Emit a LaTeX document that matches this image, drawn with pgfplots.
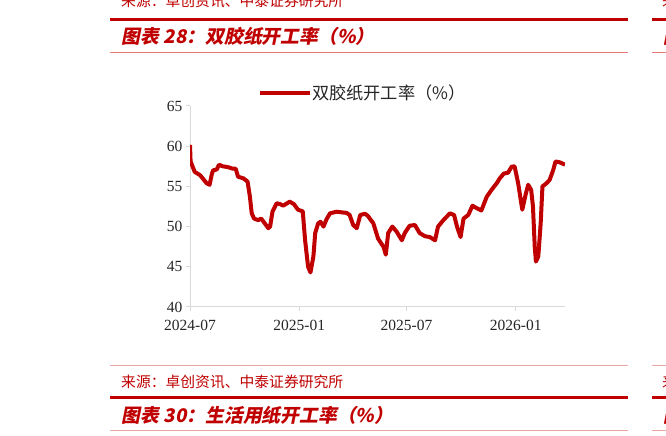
\documentclass[border=0pt]{standalone}
\usepackage{fontspec}
\usepackage{pgfplots}
\pgfplotsset{compat=1.18}
\setmainfont{Liberation Serif}
\newfontfamily\cjk{Noto Sans CJK SC}
\newfontfamily\cjktitle{Noto Sans CJK SC}[FakeSlant=0.2]

\definecolor{zred}{HTML}{C00000}
\definecolor{zpink}{HTML}{E57A7A}
\definecolor{zpale}{HTML}{EBA5A5}
\definecolor{axgrey}{HTML}{D9D9D9}

\newcommand{\srcfont}{\cjk\fontsize{14.8bp}{16bp}\selectfont}
\newcommand{\ttlfont}{\cjktitle\bfseries\fontsize{18.8bp}{20bp}\selectfont}

\begin{document}
\begin{tikzpicture}
\useasboundingbox (0,0) rectangle (666bp,436bp);
\fill[white] (0,0) rectangle (666bp,436bp);

% page furniture, upper block
\node[anchor=base west, inner sep=0, text=zred, font=\srcfont] at (121bp,429.5bp) {来源：卓创资讯、中泰证券研究所};
\draw[zred, line width=3bp] (110bp,416.3bp) -- (628bp,416.3bp);
\node[anchor=base west, inner sep=0, text=zred, font=\ttlfont] at (121bp,392bp) {图表\hspace{5bp}28：双胶纸开工率（\%）};
\draw[zpink, line width=1.2bp] (110bp,383.7bp) -- (628bp,383.7bp);

% page furniture, lower block
\draw[zpale, line width=1.2bp] (110bp,70.5bp) -- (628bp,70.5bp);
\node[anchor=base west, inner sep=0, text=zred, font=\srcfont] at (121bp,48.5bp) {来源：卓创资讯、中泰证券研究所};
\draw[zred, line width=3bp] (110bp,38.3bp) -- (628bp,38.3bp);
\node[anchor=base west, inner sep=0, text=zred, font=\ttlfont] at (121bp,14bp) {图表\hspace{5bp}30：生活用纸开工率（\%）};
\draw[zpale, line width=1.2bp] (110bp,5.3bp) -- (628bp,5.3bp);

% next column, cut off at the right edge
\begin{scope}
\clip (652bp,0) rectangle (666bp,436bp);
\draw[zred, line width=3bp] (652bp,416.3bp) -- (700bp,416.3bp);
\draw[zpink, line width=1.2bp] (652bp,383.7bp) -- (700bp,383.7bp);
\draw[zpale, line width=1.2bp] (652bp,70.5bp) -- (700bp,70.5bp);
\draw[zred, line width=3bp] (652bp,38.3bp) -- (700bp,38.3bp);
\draw[zpale, line width=1.2bp] (652bp,5.3bp) -- (700bp,5.3bp);
\node[anchor=base west, inner sep=0, text=zred, font=\srcfont] at (662bp,429.5bp) {来源};
\node[anchor=base west, inner sep=0, text=zred, font=\ttlfont] at (663bp,392bp) {图表};
\node[anchor=base west, inner sep=0, text=zred, font=\srcfont] at (662bp,48.5bp) {来源};
\node[anchor=base west, inner sep=0, text=zred, font=\ttlfont] at (663bp,14bp) {图表};
\end{scope}

\begin{axis}[
    at={(190bp,129bp)}, anchor=south west,
    scale only axis,
    width=375bp, height=201bp,
    xmin=0, xmax=632,
    ymin=40, ymax=65,
    axis x line*=bottom, axis y line*=left,
    axis line style={-, axgrey, line width=1bp},
    tick align=outside,
    major tick length=4bp,
    tick style={axgrey, line width=1bp},
    xtick={0,184,365,549},
    xticklabels={2024-07,2025-01,2025-07,2026-01},
    ytick={40,45,50,55,60,65},
    /pgf/number format/assume math mode=true,
    tick label style={font=\fontsize{15.5bp}{16bp}\selectfont, text=black!85},
    xticklabel style={yshift=-6bp},
    legend style={draw=none, fill=none, inner sep=0pt,
        at={(axis description cs:0.181,1.065)}, anchor=west,
        font=\cjk\fontsize{17.2bp}{18bp}\selectfont, text=black!85,
        nodes={inner sep=0pt}},
    legend image code/.code={
        \draw[#1, line width=4bp] (-3bp,0bp) -- (39bp,0bp);
        \path (-3bp,0bp) -- (47bp,0bp);},
]
% weekly operating rate, x = days since 2024-07-01
\addplot[zred, line width=4bp, line join=round] coordinates {
    (0,60.15) (1,58.1) (8,56.8) (17,56.4) (28,55.4) (33,55.2) (37,56.6)
    (39,57.0) (45,57.1) (49,57.7) (55,57.5) (64,57.4) (72,57.2) (77,57.2)
    (81,56.2) (90,56.0) (97,55.6) (101,53.7) (104,51.65) (108,51.0)
    (115,50.8) (120,51.0) (126,50.4) (132,49.8) (135,50.0) (139,51.85)
    (146,52.9) (152,52.8) (157,52.6) (168,53.1) (175,52.8) (182,52.1)
    (190,51.9) (194,48.3) (199,45.0) (203,44.3) (208,46.3) (211,49.2)
    (216,50.4) (220,50.6) (225,50.0) (230,50.9) (236,51.65) (247,51.85)
    (264,51.7) (269,51.45) (275,50.2) (281,49.8) (287,51.45) (295,51.6)
    (300,51.3) (309,50.4) (317,48.5) (326,47.5) (330,46.5) (334,49.2)
    (341,50.0) (348,49.4) (357,48.3) (362,49.2) (370,50.1) (379,50.2)
    (387,49.2) (396,48.8) (404,48.7) (413,48.3) (418,50.0) (427,50.8)
    (438,51.65) (445,51.45) (450,50.0) (456,48.7) (461,51.0) (469,51.45)
    (476,52.6) (483,52.3) (491,52.0) (500,53.7) (508,54.55) (517,55.4)
    (522,56.0) (529,56.6) (536,56.7) (542,57.45) (547,57.5) (553,55.4)
    (560,52.1) (566,54.1) (570,55.2) (575,54.55) (578,52.5) (581,47.5)
    (583,45.65) (587,46.3) (591,50.4) (594,55.0) (601,55.4) (606,55.8)
    (612,57.0) (616,58.1) (623,58.0) (632,57.7)
};
\addlegendentry{双胶纸开工率（\%）}
\end{axis}
\end{tikzpicture}
\end{document}
